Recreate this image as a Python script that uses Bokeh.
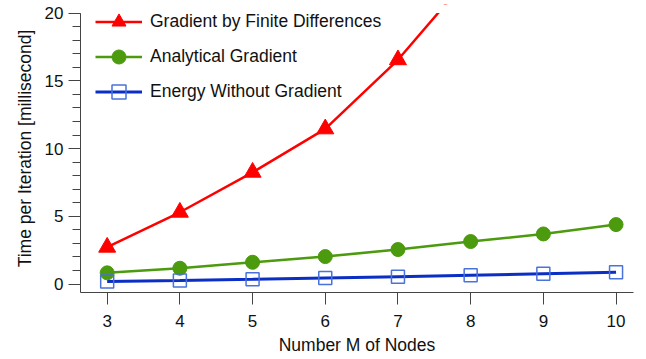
from bokeh.plotting import figure
from bokeh.models import Legend, LegendItem, FixedTicker, Range1d, BoxAnnotation
from bokeh.embed import file_html
from bokeh.resources import INLINE

nodes = [3, 4, 5, 6, 7, 8, 9, 10]
fd_nodes = [3, 4, 5, 6, 7, 8]
finite_diff = [2.72, 5.3, 8.25, 11.45, 16.55, 22.8]
analytical = [0.83, 1.17, 1.61, 2.03, 2.55, 3.14, 3.7, 4.39]
energy = [0.2, 0.27, 0.35, 0.45, 0.55, 0.65, 0.76, 0.87]
x_ticks = [3, 4, 5, 6, 7, 8, 9, 10]
y_ticks = [0, 5, 10, 15, 20]
y_minor = list(range(0, 21))
y_max = 20

FONT = "Liberation Sans"
RED = "#ff0000"
GREEN = "#4c9a0e"
BLUE_LINE = "#0b2fc4"
BLUE_MARK = "#4a72db"
AXIS = "#444444"

p = figure(width=646, height=359, output_backend="svg", toolbar_location=None,
           x_range=Range1d(2.633, 10.24), y_range=Range1d(-0.62, 20.63),
           min_border_left=80, min_border_right=13, min_border_top=4, min_border_bottom=67)
p.outline_line_color = None
p.xgrid.visible = False
p.ygrid.visible = False

r1 = p.line(fd_nodes, finite_diff, line_color=RED, line_width=2.5)
m1 = p.scatter(fd_nodes, finite_diff, marker="triangle", size=17, fill_color=RED, line_color=RED)
r2 = p.line(nodes, analytical, line_color=GREEN, line_width=2.5)
m2 = p.scatter(nodes, analytical, marker="circle", size=14, fill_color=GREEN, line_color=GREEN)
r3 = p.line(nodes, energy, line_color=BLUE_LINE, line_width=3)
m3 = p.scatter(nodes, energy, marker="square", size=13, fill_color=None, line_color=BLUE_MARK, line_width=1.5)

# hide the part of the steep series drawn above the top of the value axis (clipped at 20)
p.add_layout(BoxAnnotation(bottom=y_max, left=6.0, right=10.24,
                           fill_color="white", fill_alpha=1.0,
                           line_alpha=0, level="overlay"))

for ax in (p.xaxis[0], p.yaxis[0]):
    ax.axis_line_color = AXIS
    ax.major_tick_line_color = AXIS
    ax.minor_tick_line_color = AXIS
    ax.major_tick_in = 0
    ax.major_tick_out = 12
    ax.minor_tick_in = 0
    ax.minor_tick_out = 8
    ax.major_label_text_font = FONT
    ax.major_label_text_font_size = "17px"
    ax.major_label_text_color = "#111111"
    ax.axis_label_text_font = FONT
    ax.axis_label_text_font_size = "17.5px"
    ax.axis_label_text_font_style = "normal"
    ax.axis_label_text_color = "#111111"

p.xaxis.ticker = FixedTicker(ticks=x_ticks, minor_ticks=[])
p.yaxis.ticker = FixedTicker(ticks=y_ticks, minor_ticks=y_minor)
p.yaxis.bounds = (-0.62, y_max)
p.xaxis.axis_label = "Number M of Nodes"
p.yaxis.axis_label = "Time per Iteration [millisecond]"
p.xaxis.major_label_standoff = 10
p.xaxis.axis_label_standoff = 5
p.yaxis.major_label_standoff = 5
p.yaxis.axis_label_standoff = 7

legend = Legend(items=[
    LegendItem(label="Gradient by Finite Differences", renderers=[r1, m1]),
    LegendItem(label="Analytical Gradient", renderers=[r2, m2]),
    LegendItem(label="Energy Without Gradient", renderers=[r3, m3]),
], location=(15, 183))
legend.glyph_width = 47
legend.glyph_height = 35
legend.spacing = 0
legend.padding = 0
legend.margin = 0
legend.label_standoff = 8
legend.border_line_color = None
legend.background_fill_alpha = 0
legend.label_text_font = FONT
legend.label_text_font_size = "17.5px"
legend.label_text_color = "#111111"
p.add_layout(legend)

open("out.html", "w").write(file_html(p, INLINE))
